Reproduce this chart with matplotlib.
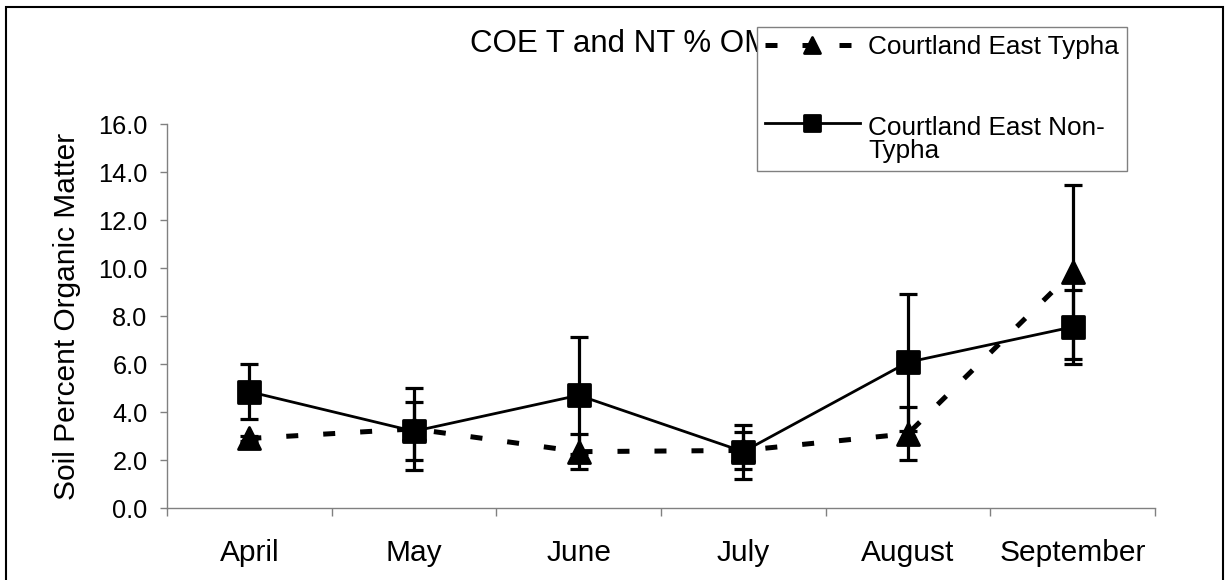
import matplotlib
matplotlib.use("Agg")
import matplotlib.pyplot as plt
import numpy as np
from matplotlib.patches import Rectangle
from matplotlib.legend_handler import HandlerLine2D
from matplotlib.markers import MarkerStyle

months = ["April", "May", "June", "July", "August", "September"]
typha_mean = [2.9, 3.3, 2.35, 2.4, 3.1, 9.85]
typha_err = [0.12, 1.7, 0.72, 0.77, 1.1, 3.62]
nontypha_mean = [4.85, 3.2, 4.7, 2.35, 6.08, 7.55]
nontypha_err = [1.15, 1.21, 2.45, 1.13, 2.86, 1.53]
yticks = [0, 2, 4, 6, 8, 10, 12, 14, 16]

plt.rcParams['font.family'] = ['Liberation Sans', 'DejaVu Sans']

W, H = 1231, 580
fig = plt.figure(figsize=(W / 100, H / 100), dpi=100)
ax = fig.add_axes([167 / W, 1 - 508 / H, (1155 - 167) / W, (508 - 124.3) / H])

x = np.arange(len(months))

ax.errorbar(x, typha_mean, yerr=typha_err, fmt='none', ecolor='black',
            elinewidth=2.3, capsize=6.5, capthick=2.3, zorder=4)
ax.errorbar(x, nontypha_mean, yerr=nontypha_err, fmt='none', ecolor='black',
            elinewidth=2.3, capsize=6.5, capthick=2.3, zorder=4)

tri = MarkerStyle('^', joinstyle='round')
sq = MarkerStyle('s', joinstyle='round')
l1, = ax.plot(x, typha_mean, color='black', linestyle=(0, (2.4, 5.0)), lw=3.6,
              marker=tri, ms=16, mec='black', mew=2.0,
              dash_capstyle='butt', zorder=3, label='Courtland East Typha')
l2, = ax.plot(x, nontypha_mean, color='black', linestyle='-', lw=2.0,
              marker=sq, ms=16, mec='black', mew=2.0, zorder=3,
              label='Courtland East Non-\nTypha')

ax.set_xlim(-0.5, len(months) - 0.5)
ax.set_ylim(0, 16)
ax.set_yticks(yticks)
ax.set_yticklabels([f"{v:.1f}" for v in yticks], fontsize=18.3)
ax.set_xticks(np.arange(len(months) + 1) - 0.5)
ax.set_xticklabels([])
ax.set_xticks(x, minor=True)
ax.set_xticklabels(months, minor=True, fontsize=21.5)
ax.tick_params(axis='x', which='minor', length=0, pad=22.5)
ax.tick_params(axis='x', which='major', length=6, width=1, color='#808080', direction='out')
ax.tick_params(axis='y', length=5, width=1, color='#808080', direction='out', pad=9)

for s in ('top', 'right'):
    ax.spines[s].set_visible(False)
for s in ('left', 'bottom'):
    ax.spines[s].set_color('#808080')
    ax.spines[s].set_linewidth(1.0)

ax.set_ylabel("Soil Percent Organic Matter", fontsize=21.5)
ax.yaxis.set_label_coords((81 - 167) / (1155 - 167), 0.5)

ax.text(470 / W, 1 - 52 / H, "COE T and NT % OM", transform=fig.transFigure,
        fontsize=22.5, ha='left', va='baseline', zorder=3, clip_on=False)


class ShiftedHandler(HandlerLine2D):
    def __init__(self, dy=0.0, **kw):
        super().__init__(**kw)
        self.dy = dy

    def create_artists(self, legend, orig_handle, xdescent, ydescent, width, height, fontsize, trans):
        return super().create_artists(legend, orig_handle, xdescent, ydescent - 2 * self.dy,
                                      width, height, fontsize, trans)


leg = ax.legend(handles=[l1, l2], loc='upper left',
                bbox_to_anchor=(757 / W, 1 - 27 / H), bbox_transform=fig.transFigure,
                fontsize=18.8, frameon=True, fancybox=False, framealpha=1,
                edgecolor='#808080', borderpad=0.3, labelspacing=2.2,
                handlelength=3.65, handletextpad=0.3, borderaxespad=0,
                markerscale=0.75,
                handler_map={l1: ShiftedHandler(0.0), l2: ShiftedHandler(12.0)})
leg.get_frame().set_linewidth(1.0)
leg.set_zorder(10)
for t in leg.get_texts():
    t.set_linespacing(0.95)

fig.patches.append(Rectangle((6 / W, -0.02), (1222.7 - 6) / W, 1.02 - 6.5 / H,
                             transform=fig.transFigure, fill=False,
                             edgecolor='black', linewidth=1.5))

fig.savefig("out.png", dpi=100)
